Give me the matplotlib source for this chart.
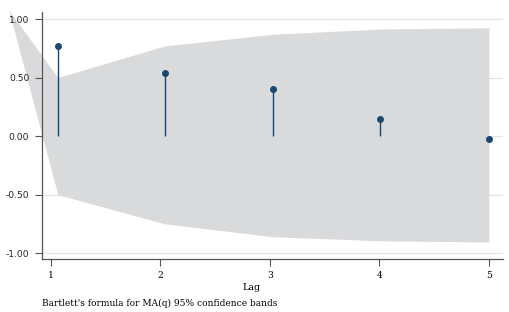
import numpy as np
import matplotlib
matplotlib.use("Agg")
import matplotlib.pyplot as plt

# autocorrelations
lag_pos = [1.064, 2.04, 3.03, 4.01, 5.0]
acf = [0.771, 0.542, 0.40, 0.150, -0.024]

# Bartlett band (starts from a point left of the first lag)
band_x = [0.616, 1.064, 2.04, 3.03, 4.01, 5.0]
band_hi = [1.077, 0.50, 0.77, 0.87, 0.915, 0.925]
band_lo = [1.077, -0.50, -0.75, -0.86, -0.895, -0.905]

xticks = [1, 2, 3, 4, 5]
yticks = [-1.0, -0.5, 0.0, 0.5, 1.0]

navy = "#1a476f"
serif = ["DejaVu Serif"]

fig = plt.figure(figsize=(5.1, 3.12), dpi=100)
ax = fig.add_axes([0.082, 0.170, 0.904, 0.7915])

for y in yticks:
    ax.axhline(y, color="#e1e3e5", lw=0.9, zorder=0)

ax.fill_between(band_x, band_lo, band_hi, color="#d9dadc", lw=0, zorder=1,
                clip_on=False)

ax.vlines(lag_pos, 0, acf, color=navy, lw=1.0, zorder=3)
ax.plot(lag_pos, acf, "o", color=navy, ms=4, zorder=4)

ax.set_xlim(0.918, 5.128)
ax.set_ylim(-1.05, 1.06)

ax.set_yticks(yticks)
ax.set_yticklabels(["%.2f" % v for v in yticks], fontsize=6.6,
                   family="DejaVu Sans", color="#222222")
ax.set_xticks(xticks)
ax.set_xticklabels([str(v) for v in xticks], fontsize=6.6, family=serif)

for s in ["top", "right"]:
    ax.spines[s].set_visible(False)
for s in ["left", "bottom"]:
    ax.spines[s].set_color("#555555")
    ax.spines[s].set_linewidth(0.9)
ax.tick_params(axis="both", direction="out", length=5, width=0.8,
               color="#555555", pad=4)

# title is centred on the wider plot region, not the axes
fig.text(0.494, 0.080, "Lag", fontsize=6.8, family=serif,
         ha="center", va="center")
fig.text(0.082, 0.029, "Bartlett's formula for MA(q) 95% confidence bands",
         fontsize=6.5, family=serif, va="center")

fig.savefig("out.png", dpi=100)
